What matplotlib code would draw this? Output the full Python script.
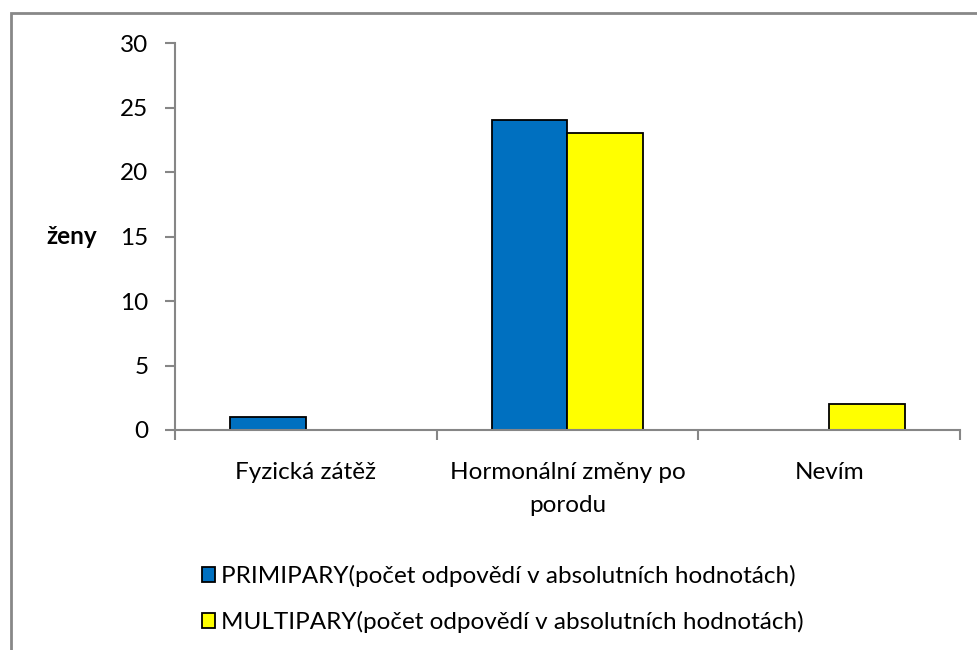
import matplotlib.pyplot as plt
import numpy as np
from matplotlib.patches import Rectangle

plt.rcParams['font.family'] = ['Lato', 'DejaVu Sans']

categories = ['Fyzická zátěž', 'Hormonální změny po\nporodu', 'Nevím']
primipary = [1, 24, 0]
multipary = [0, 23, 2]
series_names = ['PRIMIPARY(počet odpovědí v absolutních hodnotách)',
                'MULTIPARY(počet odpovědí v absolutních hodnotách)']

W, H = 978, 650
FS = 17.5
fig = plt.figure(figsize=(W / 100, H / 100), dpi=100)
ax = fig.add_axes([175 / W, (H - 430) / H, 785 / W, 387 / H])

axis_grey = '#868686'
x = np.arange(len(categories))
bw = 0.29
b1 = ax.bar(x - bw / 2, primipary, bw, color='#0070C0', edgecolor='black', linewidth=1.3)
b2 = ax.bar(x + bw / 2, multipary, bw, color='#FFFF00', edgecolor='black', linewidth=1.3)

ax.set_xlim(-0.5, 2.5)
ax.set_ylim(0, 30)
ax.set_yticks(range(0, 31, 5))
ax.tick_params(axis='y', length=7, width=1.5, color=axis_grey, labelsize=FS, pad=12)

# category labels between boundary ticks
ax.set_xticks([-0.5, 0.5, 1.5, 2.5])
ax.set_xticklabels([])
ax.tick_params(axis='x', length=7, width=1.5, color=axis_grey)
for xi, lab in zip(x, categories):
    ax.text(xi, -2.5, lab, ha='center', va='top', fontsize=FS, linespacing=1.7)

for side in ['top', 'right']:
    ax.spines[side].set_visible(False)
for side in ['left', 'bottom']:
    ax.spines[side].set_color(axis_grey)
    ax.spines[side].set_linewidth(1.5)

ax.set_ylabel('ženy', rotation=0, fontsize=FS, fontweight='bold', labelpad=0,
              ha='center', va='center')
ax.yaxis.set_label_coords(-0.131, 0.5)

fig.legend([b1, b2], series_names, loc='upper left',
           bbox_to_anchor=(180 / W, 1 - 543 / H), frameon=False, fontsize=FS,
           handlelength=0.55, handleheight=0.55, handletextpad=0.25, labelspacing=1.0)

# outer chart frame
fig.add_artist(Rectangle((10.5 / W, -0.1), 1.2, 1.1 - 13 / H, transform=fig.transFigure,
                         fill=False, edgecolor='#888888', linewidth=2))

fig.savefig('out.png', dpi=100)
